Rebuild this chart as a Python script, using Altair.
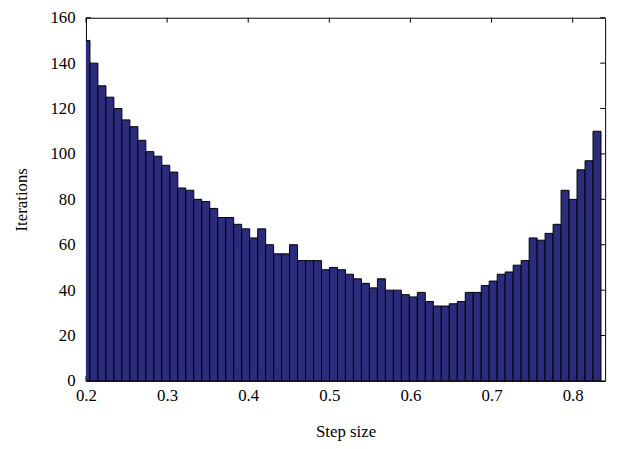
import altair as alt
import pandas as pd

# Step sizes (x values, 65 evenly spaced runs from 0.20 to 0.83) and
# iteration counts
step_size = [0.2000, 0.2098, 0.2197, 0.2295, 0.2394, 0.2492, 0.2591, 0.2689,
             0.2788, 0.2886, 0.2984, 0.3083, 0.3181, 0.3280, 0.3378, 0.3477,
             0.3575, 0.3673, 0.3772, 0.3870, 0.3969, 0.4067, 0.4166, 0.4264,
             0.4363, 0.4461, 0.4559, 0.4658, 0.4756, 0.4855, 0.4953, 0.5052,
             0.5150, 0.5248, 0.5347, 0.5445, 0.5544, 0.5642, 0.5741, 0.5839,
             0.5938, 0.6036, 0.6134, 0.6233, 0.6331, 0.6430, 0.6528, 0.6627,
             0.6725, 0.6823, 0.6922, 0.7020, 0.7119, 0.7217, 0.7316, 0.7414,
             0.7513, 0.7611, 0.7709, 0.7808, 0.7906, 0.8005, 0.8103, 0.8202,
             0.8300]
iterations = [150, 140, 130, 125, 120, 115, 112, 106, 101, 99,
              95, 92, 85, 84, 80, 79, 76, 72, 72, 69,
              67, 63, 67, 60, 56, 56, 60, 53, 53, 53,
              49, 50, 49, 47, 45, 43, 41, 45, 40, 40,
              38, 37, 39, 35, 33, 33, 34, 35, 39, 39,
              42, 44, 47, 48, 51, 53, 63, 62, 65, 69,
              84, 80, 93, 97, 110]

x_ticks = [0.2, 0.3, 0.4, 0.5, 0.6, 0.7, 0.8]
y_ticks = [0, 20, 40, 60, 80, 100, 120, 140, 160]

W, H = 526, 368
FONT = "Liberation Serif"

df = pd.DataFrame({"step": step_size, "iters": iterations})
xt = pd.DataFrame({"t": x_ticks})
yt = pd.DataFrame({"t": y_ticks})

xscale = alt.Scale(domain=[0.2, 0.84], nice=False, zero=False)
yscale = alt.Scale(domain=[0, 160], nice=False)

xaxis = alt.Axis(values=x_ticks, format=".1f", title="Step size",
                 ticks=False, domain=False, grid=False, labelFlush=False,
                 labelPadding=7, titlePadding=20)
yaxis = alt.Axis(values=y_ticks, title="Iterations", ticks=False,
                 domain=False, grid=False, labelFlush=False,
                 labelPadding=11, titlePadding=20)

bars = alt.Chart(df).transform_calculate(
    lo="datum.step - 0.00492", hi="datum.step + 0.00492"
).mark_bar(fill="#2b2c7c", stroke="#000000", strokeWidth=1, clip=True).encode(
    x=alt.X("lo:Q", scale=xscale, axis=xaxis),
    x2="hi:Q",
    y=alt.Y("iters:Q", scale=yscale, axis=yaxis),
    y2=alt.datum(0),
)

bottom = alt.Chart(xt).mark_rule(color="black").encode(
    x=alt.X("t:Q", scale=xscale, axis=xaxis), y=alt.value(H), y2=alt.value(H - 5))
top = alt.Chart(xt).mark_rule(color="black").encode(
    x=alt.X("t:Q", scale=xscale, axis=xaxis), y=alt.value(0), y2=alt.value(5))
left = alt.Chart(yt).mark_rule(color="black").encode(
    y=alt.Y("t:Q", scale=yscale, axis=yaxis), x=alt.value(0), x2=alt.value(5))
right = alt.Chart(yt).mark_rule(color="black").encode(
    y=alt.Y("t:Q", scale=yscale, axis=yaxis), x=alt.value(W - 5), x2=alt.value(W))

chart = alt.layer(left, bottom, bars, top, right).properties(
    width=W, height=H,
    autosize=alt.AutoSizeParams(type="none"),
    padding={"left": 79, "top": 7, "right": 9, "bottom": 58},
).configure_view(stroke="black", strokeWidth=1).configure_axis(
    labelFont=FONT, titleFont=FONT, labelFontSize=17, titleFontSize=17,
    labelColor="black", titleColor="black", titleFontWeight="normal"
)

chart.save("out.html", embed_options={"renderer": "svg", "actions": False})
